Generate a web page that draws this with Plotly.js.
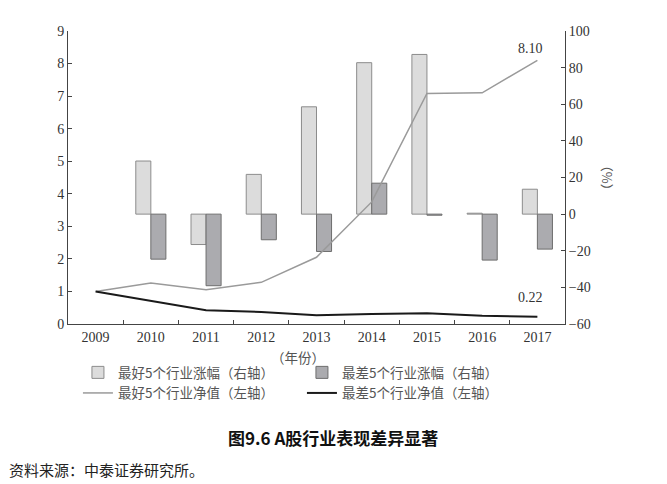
<!DOCTYPE html>
<html>
<head>
<meta charset="utf-8">
<script src="https://cdn.plot.ly/plotly-3.0.1.min.js"></script>
<style>
  body { margin: 0; background: #fff; }
  #chart { width: 667px; height: 484px; }
</style>
</head>
<body>
<div id="chart"></div>
<script>
// years on the x axis
const years = ["2009", "2010", "2011", "2012", "2013", "2014", "2015", "2016", "2017"];

// yearly change of best / worst 5 industries, % (right axis)
const bestPct = [null, 29.0, -16.6, 21.7, 58.6, 82.7, 87.2, 0.5, 13.6];
const worstPct = [null, -24.6, -39.1, -14.0, -20.4, 16.9, -0.6, -25.1, -19.1];

// net value of best / worst 5 industries (left axis)
const bestNav = [1.0, 1.26, 1.05, 1.28, 2.05, 3.75, 7.08, 7.10, 8.10];
const worstNav = [1.0, 0.72, 0.42, 0.37, 0.27, 0.31, 0.33, 0.25, 0.22];

const serif = "Liberation Serif, Times New Roman, serif";
const cjk = "Noto Sans CJK SC, sans-serif";

const data = [
  {
    x: years, y: bestPct, type: "bar", yaxis: "y",
    name: "最好5个行业涨幅（右轴）",
    marker: { color: "#dcdcdc", line: { color: "#8c8c8c", width: 1 } }
  },
  {
    x: years, y: worstPct, type: "bar", yaxis: "y",
    name: "最差5个行业涨幅（右轴）",
    marker: { color: "#ababaf", line: { color: "#6e6e6e", width: 1 } }
  },
  {
    x: years, y: bestNav, type: "scatter", mode: "lines", yaxis: "y2",
    name: "最好5个行业净值（左轴）",
    line: { color: "#9a9a9a", width: 1.5 }
  },
  {
    x: years, y: worstNav, type: "scatter", mode: "lines", yaxis: "y2",
    name: "最差5个行业净值（左轴）",
    line: { color: "#1a1a1a", width: 2 }
  }
];

// end labels of the two net value lines
const lastIdx = years.length - 1;
const endLabels = [bestNav[lastIdx], worstNav[lastIdx]];

const layout = {
  width: 667,
  height: 484,
  margin: { l: 68, r: 102, t: 31, b: 160 },
  paper_bgcolor: "#fff",
  plot_bgcolor: "#fff",
  showlegend: true,
  barmode: "group",
  bargap: 0.455,
  bargroupgap: 0,
  font: { family: serif, size: 14, color: "#333" },
  xaxis: {
    type: "category",
    range: [-0.5, 8.5],
    tickson: "boundaries",
    ticks: "inside",
    ticklen: 4,
    tickcolor: "#444",
    showline: true,
    linecolor: "#444",
    showgrid: false,
    zeroline: false,
    tickfont: { family: serif, size: 14, color: "#333" }
  },
  yaxis: {
    side: "right",
    range: [-60, 100],
    dtick: 20,
    ticks: "inside",
    ticklen: 4,
    tickcolor: "#444",
    showline: true,
    linecolor: "#444",
    showgrid: false,
    zeroline: false,
    tickfont: { family: serif, size: 14, color: "#333" }
  },
  yaxis2: {
    overlaying: "y",
    side: "left",
    range: [0, 9],
    dtick: 1,
    ticks: "inside",
    ticklen: 4,
    tickcolor: "#444",
    showline: true,
    linecolor: "#444",
    showgrid: false,
    zeroline: false,
    tickfont: { family: serif, size: 14, color: "#333" }
  },
  legend: {
    orientation: "h",
    x: 0.02,
    y: -0.113,
    xanchor: "left",
    yanchor: "top",
    entrywidth: 179,
    traceorder: "normal",
    font: { family: cjk, size: 13.5, color: "#555" },
    bgcolor: "rgba(0,0,0,0)"
  },
  annotations: [
    { x: lastIdx, y: 8.45, xref: "x", yref: "y2", xshift: -7, text: endLabels[0].toFixed(2),
      xanchor: "center", yanchor: "middle",
      showarrow: false, font: { family: serif, size: 14, color: "#333" } },
    { x: lastIdx, y: 0.8, xref: "x", yref: "y2", xshift: -7, text: endLabels[1].toFixed(2),
      xanchor: "center", yanchor: "middle",
      showarrow: false, font: { family: serif, size: 14, color: "#333" } },
    { x: 1.087, y: 0.498, xref: "paper", yref: "paper", text: "（%）", textangle: 90,
      xanchor: "center", yanchor: "middle",
      showarrow: false, font: { family: cjk, size: 13, color: "#555" } },
    { x: 0.462, y: -0.113, xref: "paper", yref: "paper", text: "（年份）",
      xanchor: "center", yanchor: "middle",
      showarrow: false, font: { family: cjk, size: 13.5, color: "#555" } },
    { x: 0.534, y: -0.386, xref: "paper", yref: "paper",
      text: "<b>图9.6 A股行业表现差异显著</b>",
      xanchor: "center", yanchor: "middle",
      showarrow: false, font: { family: cjk, size: 17, color: "#111" } },
    { x: -0.123, y: -0.498, xref: "paper", yref: "paper",
      text: "资料来源：中泰证券研究所。",
      xanchor: "left", yanchor: "middle",
      showarrow: false, font: { family: cjk, size: 15, color: "#222" } }
  ]
};

Plotly.newPlot("chart", data, layout, { displayModeBar: false, staticPlot: true });
</script>
</body>
</html>
